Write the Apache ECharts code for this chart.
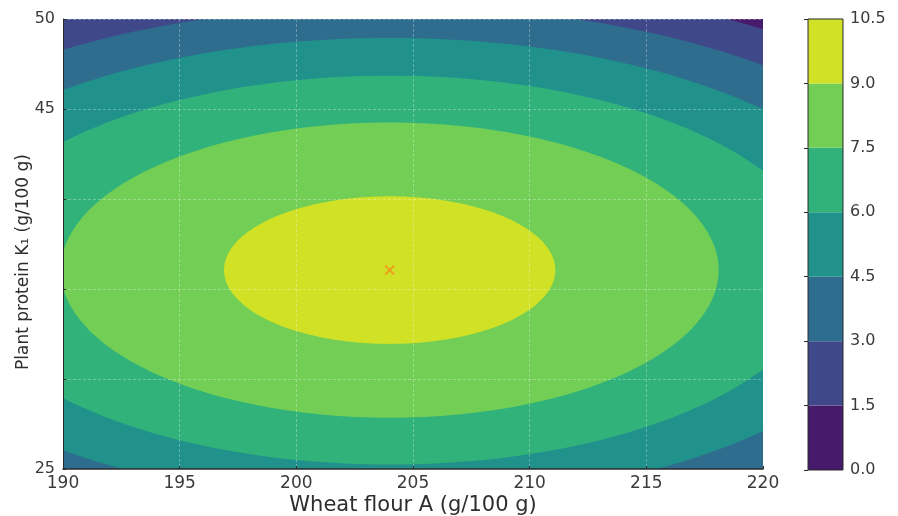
<!DOCTYPE html>
<html><head><meta charset="utf-8">
<script src="https://cdn.jsdelivr.net/npm/echarts@6/dist/echarts.min.js"></script>
<style>html,body{margin:0;padding:0;background:#fff}#c{width:898px;height:516px}</style>
</head><body><div id="c"></div>
<script>
// colour-bar levels and band colours (viridis, 7 bands)
const levels = [0, 1.5, 3.0, 4.5, 6.0, 7.5, 9.0, 10.5];
const bandColors = ['#481a6b', '#3f4888', '#2f6d8e', '#21918c', '#31b27b', '#72ce55', '#d0e126'];
// contour lines: level, half-width along x and half-height along y (g/100 g)
const contourLevels = [1.5, 3.0, 4.5, 6.0, 7.5, 9.0];
const contourRx = [28.0, 25.3, 22.2, 18.6, 14.1, 7.1];
const contourRy = [16.3, 14.7, 12.9, 10.8, 8.2, 4.1];
// optimum marked with an "x"
const optimum = [204.0, 36.05];
// tick settings
const xMin = 190, xMax = 220, xStep = 5;
const yMin = 25, yMax = 50, yStep = 5;
const yTickLabelsShown = [25, 45, 50];

const FONT = 'DejaVu Sans';
const TXT = '#3a3a3a';

const contourData = contourLevels.map((l, i) => [optimum[0], optimum[1], contourRx[i], contourRy[i], i + 1]);
const barData = bandColors.map((c, i) => [0, levels[i], levels[i + 1], i]);

const chart = echarts.init(document.getElementById('c'), null, {renderer: 'canvas'});
chart.setOption({
  animation: false,
  backgroundColor: '#ffffff',
  grid: [
    {left: 63, top: 19, width: 700, height: 450, show: true, backgroundColor: bandColors[0], borderWidth: 0,
      containLabel: false, outerBoundsMode: 'none'},
    {left: 808, top: 19, width: 35, height: 451, show: false, containLabel: false, outerBoundsMode: 'none'}
  ],
  xAxis: [
    {
      type: 'value', gridIndex: 0, min: xMin, max: xMax, interval: xStep, z: 5,
      name: 'Wheat flour A (g/100 g)', nameLocation: 'middle', nameGap: 26, nameMoveOverlap: false,
      nameTextStyle: {fontFamily: FONT, fontSize: 21, color: '#2e2e2e'},
      axisLine: {show: true, onZero: false, lineStyle: {color: '#2b2b2b', width: 1.5}},
      axisTick: {show: true, inside: true, length: 3, lineStyle: {color: '#2b2b2b'}},
      axisLabel: {fontFamily: FONT, fontSize: 17, color: TXT, margin: 6, hideOverlap: false},
      splitLine: {show: true, lineStyle: {color: 'rgba(255,255,255,0.3)', type: [3, 2], width: 1}}
    },
    {type: 'value', gridIndex: 1, min: 0, max: 1, show: false}
  ],
  yAxis: [
    {
      type: 'value', gridIndex: 0, min: yMin, max: yMax, interval: yStep, z: 5,
      name: 'Plant protein K\u2081 (g/100 g)', nameLocation: 'middle', nameGap: 31, nameMoveOverlap: false,
      nameTextStyle: {fontFamily: FONT, fontSize: 17, color: '#2e2e2e', padding: [0, 36, 0, 0]},
      axisLine: {show: true, onZero: false, lineStyle: {color: '#2b2b2b', width: 1}},
      axisTick: {show: true, inside: true, length: 3, lineStyle: {color: '#2b2b2b'}},
      axisLabel: {fontFamily: FONT, fontSize: 16, color: TXT, margin: 8, hideOverlap: false,
        verticalAlignMinLabel: 'middle', verticalAlignMaxLabel: 'middle',
        formatter: v => yTickLabelsShown.indexOf(v) >= 0 ? String(v) : ''},
      splitLine: {show: true, lineStyle: {color: 'rgba(255,255,255,0.3)', type: [3, 2], width: 1}}
    },
    {
      type: 'value', gridIndex: 1, min: levels[0], max: levels[levels.length - 1], interval: 1.5,
      position: 'right', z: 5,
      axisLine: {show: false},
      axisTick: {show: true, inside: true, length: 4, lineStyle: {color: '#2b2b2b'}},
      axisLabel: {fontFamily: FONT, fontSize: 16, color: TXT, margin: 7, formatter: v => v.toFixed(1),
        verticalAlignMinLabel: 'middle', verticalAlignMaxLabel: 'middle'},
      splitLine: {show: false}
    }
  ],
  series: [
    {
      type: 'custom', xAxisIndex: 0, yAxisIndex: 0, clip: true, silent: true,
      data: contourData, encode: {x: 0, y: 1},
      renderItem: function (params, api) {
        const c = api.coord([api.value(0), api.value(1)]);
        const s = api.size([api.value(2), api.value(3)]);
        const pts = [];
        const n = 240;
        for (let k = 0; k < n; k++) {
          const t = k / n * Math.PI * 2;
          pts.push([c[0] + s[0] * Math.cos(t), c[1] + s[1] * Math.sin(t)]);
        }
        return {type: 'polygon', shape: {points: pts}, style: {fill: bandColors[api.value(4)], stroke: null}};
      }
    },
    {
      type: 'custom', xAxisIndex: 0, yAxisIndex: 0, silent: true, z: 10,
      data: [optimum], encode: {x: 0, y: 1},
      renderItem: function (params, api) {
        const c = api.coord([api.value(0), api.value(1)]);
        const h = 4.5;
        const st = {stroke: '#f39a1e', lineWidth: 1.8};
        return {type: 'group', children: [
          {type: 'line', shape: {x1: c[0] - h, y1: c[1] - h, x2: c[0] + h, y2: c[1] + h}, style: st},
          {type: 'line', shape: {x1: c[0] - h, y1: c[1] + h, x2: c[0] + h, y2: c[1] - h}, style: st}
        ]};
      }
    },
    {
      type: 'custom', xAxisIndex: 1, yAxisIndex: 1, silent: true,
      data: barData, encode: {x: 0, y: [1, 2]},
      renderItem: function (params, api) {
        const p0 = api.coord([0, api.value(1)]);
        const p1 = api.coord([1, api.value(2)]);
        return {type: 'rect', shape: {x: p0[0], y: p1[1], width: p1[0] - p0[0], height: p0[1] - p1[1]},
          style: {fill: bandColors[api.value(3)], stroke: null}};
      }
    },
    {
      type: 'custom', xAxisIndex: 1, yAxisIndex: 1, silent: true, z: 4,
      data: [[0, 0]], encode: {x: 0, y: 1},
      renderItem: function (params, api) {
        const cs = params.coordSys;
        return {type: 'rect', shape: {x: cs.x, y: cs.y, width: cs.width, height: cs.height},
          style: {fill: 'none', stroke: '#2b2b2b', lineWidth: 1}};
      }
    }
  ]
});
</script>
</body></html>
